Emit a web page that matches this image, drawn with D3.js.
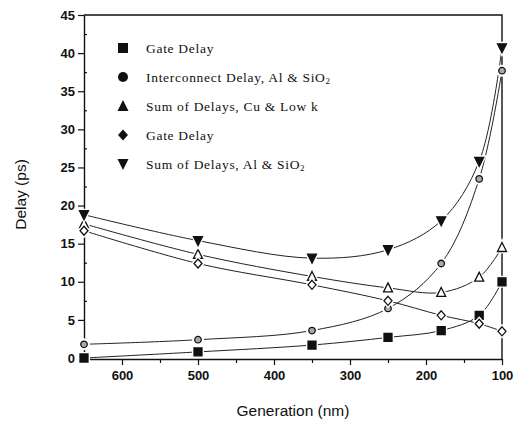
<!DOCTYPE html>
<html>
<head>
<meta charset="utf-8">
<script src="https://cdn.jsdelivr.net/npm/d3@7"></script>
<style>
  body { margin: 0; background: #fff; }
  svg { display: block; }
</style>
</head>
<body>
<script>
// technology generations (nm)
const generations = [650, 500, 350, 250, 180, 130, 100];

const gateDelay = [0, 0.8, 1.7, 2.7, 3.6, 5.6, 10];
const interconnectAl = [1.8, 2.4, 3.6, 6.5, 12.4, 23.5, 37.7];
const sumCuLowK = [17.6, 13.6, 10.7, 9.2, 8.6, 10.6, 14.5];
const gateDelay2 = [16.7, 12.4, 9.6, 7.5, 5.6, 4.5, 3.5];
const sumAl = [18.8, 15.4, 13.1, 14.2, 18.0, 25.8, 40.7];

const xTicks = [600, 500, 400, 300, 200, 100];
const xMinor = [650, 550, 450, 350, 250, 150];
const yTicks = [0, 5, 10, 15, 20, 25, 30, 35, 40, 45];

const series = [
    {label: 'Gate Delay', sub: null, values: gateDelay, shape: 'square', open: false},
    {label: 'Interconnect Delay, Al & SiO', sub: '2', values: interconnectAl, shape: 'circle', open: true},
    {label: 'Sum of Delays, Cu & Low k', sub: null, values: sumCuLowK, shape: 'up', open: true},
    {label: 'Gate Delay', sub: null, values: gateDelay2, shape: 'diamond', open: true},
    {label: 'Sum of Delays, Al & SiO', sub: '2', values: sumAl, shape: 'down', open: false}
];

const margin = {top: 15, right: 17, bottom: 70, left: 84},
      width = 519 - margin.left - margin.right,
      height = 358 - margin.top;

const svg = d3.select("body").append("svg")
    .attr("width", 519)
    .attr("height", 428)
  .append("g")
    .attr("transform", `translate(${margin.left},${margin.top})`);

const x = d3.scaleLinear().domain([650, 100]).range([0, width]);
const y = d3.scaleLinear().domain([0, 45]).range([height, 0]);

// frame
svg.append("path")
    .attr("d", `M0,0H${width}V${height + 1}`)
    .attr("fill", "none")
    .attr("stroke", "#111")
    .attr("stroke-width", 1.4);

// x axis
svg.append("g")
    .attr("transform", `translate(0,${height + 1})`)
    .call(d3.axisBottom(x).tickValues(xTicks).tickSize(6).tickSizeOuter(0).tickPadding(6));
svg.append("g")
    .attr("transform", `translate(0,${height + 1})`)
    .call(d3.axisBottom(x).tickValues(xMinor).tickSize(4).tickSizeOuter(0).tickFormat(""))
    .select(".domain").remove();

// y axis
svg.append("g")
    .call(d3.axisLeft(y).tickValues(yTicks).tickSize(6).tickSizeOuter(0).tickPadding(3));
svg.append("g")
    .call(d3.axisRight(y).tickValues(yTicks.slice(0, -1).map(v => v + 2.5)).tickSize(3).tickFormat(""))
    .select(".domain").remove();

svg.selectAll(".domain").attr("stroke", "#111").attr("stroke-width", 1.4);
svg.selectAll(".tick line").attr("stroke", "#111").attr("stroke-width", 1.2);
svg.selectAll(".tick text")
    .attr("fill", "#111")
    .style("font-family", "'Liberation Sans', Arial, sans-serif")
    .style("font-weight", "bold")
    .style("font-size", "13px");

// axis titles
svg.append("text")
    .attr("x", width / 2)
    .attr("y", height + 58)
    .attr("text-anchor", "middle")
    .style("font-family", "'Liberation Sans', Arial, sans-serif")
    .style("font-size", "15.5px")
    .attr("fill", "#111")
    .text("Generation (nm)");

svg.append("text")
    .attr("transform", `translate(-58,${height / 2 + 8}) rotate(-90)`)
    .attr("text-anchor", "middle")
    .style("font-family", "'Liberation Sans', Arial, sans-serif")
    .style("font-size", "15.5px")
    .attr("fill", "#111")
    .text("Delay (ps)");

function markerPath(shape, s) {
    const h = s / 2;
    if (shape === 'square') return `M${-h},${-h}H${h}V${h}H${-h}Z`;
    if (shape === 'up') return `M0,${-h - 1}L${h + 0.5},${h}H${-h - 0.5}Z`;
    if (shape === 'down') return `M0,${h + 1}L${h + 0.5},${-h}H${-h - 0.5}Z`;
    if (shape === 'diamond') return `M0,${-h - 0.5}L${h},0L0,${h + 0.5}L${-h},0Z`;
    return d3.arc()({innerRadius: 0, outerRadius: h, startAngle: 0, endAngle: 2 * Math.PI});
}

const line = d3.line()
    .x((d, i) => x(generations[i]))
    .y(d => y(d))
    .curve(d3.curveCatmullRom.alpha(0.5));

// lines
series.forEach(s => {
    svg.append("path")
        .datum(s.values)
        .attr("d", line)
        .attr("fill", "none")
        .attr("stroke", "#222")
        .attr("stroke-width", 1);
});

// markers
series.forEach(s => {
    const g = svg.append("g");
    g.selectAll("path.halo")
        .data(s.values)
        .enter().append("path")
        .attr("transform", (d, i) => `translate(${x(generations[i])},${y(d)})`)
        .attr("d", markerPath(s.shape, 8))
        .attr("fill", "#fff")
        .attr("stroke", "#fff")
        .attr("stroke-width", 4);
    g.selectAll("path.mark")
        .data(s.values)
        .enter().append("path")
        .attr("transform", (d, i) => `translate(${x(generations[i])},${y(d)})`)
        .attr("d", markerPath(s.shape, s.shape === 'circle' ? 6.5 : 8))
        .attr("fill", s.shape === 'circle' ? "#aaa" : (s.open ? "#fff" : "#111"))
        .attr("stroke", "#111")
        .attr("stroke-width", 1.3);
});

// legend
const legend = svg.append("g")
    .attr("transform", "translate(39,33)");

series.forEach((s, i) => {
    const row = legend.append("g").attr("transform", `translate(0,${i * 29})`);
    row.append("path")
        .attr("d", markerPath(s.shape, 10))
        .attr("fill", "#111");
    const t = row.append("text")
        .attr("x", 23)
        .attr("y", 4.5)
        .attr("fill", "#111")
        .style("font-family", "'Liberation Serif', 'Times New Roman', serif")
        .style("font-size", "13.5px")
        .style("letter-spacing", "0.7px")
        .text(s.label);
    if (s.sub) {
        t.append("tspan")
            .attr("dy", 2)
            .style("font-size", "9px")
            .text(s.sub);
    }
});
</script>
</body>
</html>
